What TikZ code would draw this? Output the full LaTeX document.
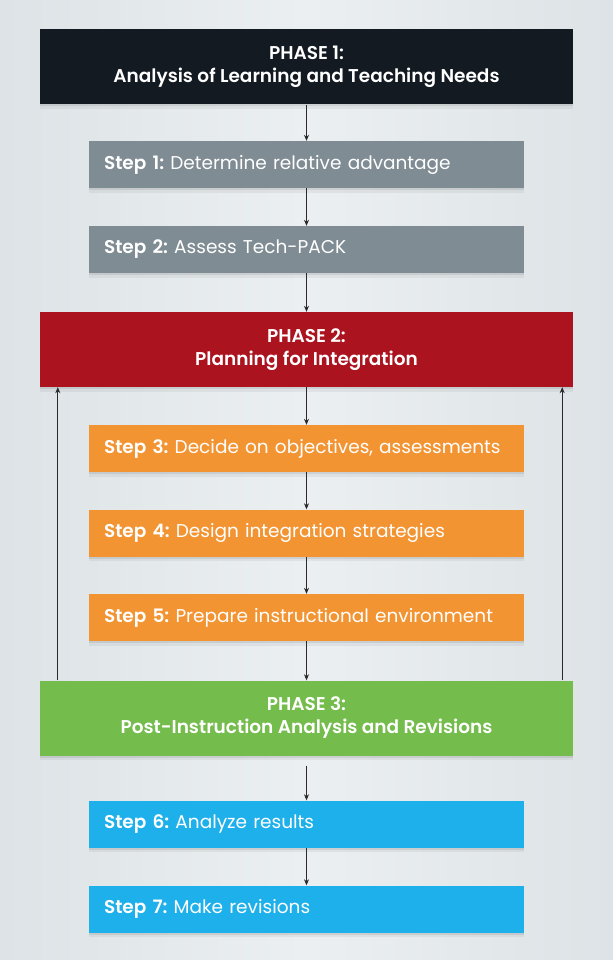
\documentclass[tikz,border=0pt]{standalone}
\usepackage{fontspec}
\setmainfont{Poppins}[BoldFont={Poppins SemiBold}]
\usetikzlibrary{arrows.meta,shadows}
\definecolor{bgc}{HTML}{DDE3E6}
\definecolor{bgmid}{HTML}{EBEFF1}
\definecolor{ph1}{HTML}{131A21}
\definecolor{stg}{HTML}{7F8C93}
\definecolor{ph2}{HTML}{AB131F}
\definecolor{sto}{HTML}{F39433}
\definecolor{ph3}{HTML}{74BC4B}
\definecolor{stb}{HTML}{1EB0EA}
\definecolor{arr}{HTML}{2A2A2A}
\tikzset{
  x=1pt, y=-1pt,
  box/.style={draw=none, inner sep=0pt, text=white,
     drop shadow={shadow xshift=0pt, shadow yshift=-4.5pt, opacity=0.05, fill=black},
     drop shadow={shadow xshift=0pt, shadow yshift=-2pt, opacity=0.08, fill=black}},
  phasebox/.style={box, minimum width=533pt, minimum height=75pt, align=center,
     font=\fontsize{18.5}{23}\selectfont},
  stepbox/.style={box, minimum width=435pt, minimum height=47pt, align=left,
     text width=405pt, font=\fontsize{18.5}{22}\selectfont},
  conn/.style={draw=arr, line width=0.7pt, -{Stealth[length=6pt,width=5pt]}}
}
\begin{document}
\begin{tikzpicture}
\useasboundingbox (0,0) rectangle (613,960);
\shade[left color=bgc, right color=bgc, middle color=bgmid] (0,0) rectangle (613,960);
\node[phasebox, fill=ph1] (p1) at (306.5,67) {\textbf{PHASE 1:}\\ \textbf{Analysis of Learning and Teaching Needs}};
\node[stepbox, fill=stg] (s1) at (306.5,164.5) {\textbf{Step 1:}~Determine relative advantage};
\node[stepbox, fill=stg] (s2) at (306.5,249.5) {\textbf{Step 2:}~Assess Tech-PACK};
\node[phasebox, fill=ph2] (p2) at (306.5,349.5) {\textbf{PHASE 2:}\\ \textbf{Planning for Integration}};
\node[stepbox, fill=sto] (s3) at (306.5,448.5) {\textbf{Step 3:}~Decide on objectives, assessments};
\node[stepbox, fill=sto] (s4) at (306.5,533) {\textbf{Step 4:}~Design integration strategies};
\node[stepbox, fill=sto] (s5) at (306.5,617.5) {\textbf{Step 5:}~Prepare instructional environment};
\node[phasebox, fill=ph3] (p3) at (306.5,718) {\textbf{PHASE 3:}\\ \textbf{Post-Instruction Analysis and Revisions}};
\node[stepbox, fill=stb] (s6) at (306.5,824) {\textbf{Step 6:}~Analyze results};
\node[stepbox, fill=stb] (s7) at (306.5,909) {\textbf{Step 7:}~Make revisions};
\draw[conn] (p1) -- (s1);
\draw[conn] (s1) -- (s2);
\draw[conn] (s2) -- (p2);
\draw[conn] (p2) -- (s3);
\draw[conn] (s3) -- (s4);
\draw[conn] (s4) -- (s5);
\draw[conn] (s5) -- (p3);
\draw[conn] ([yshift=-10pt]p3.south) -- (s6);
\draw[conn] (s6) -- (s7);
\draw[conn] (p3.north west) ++(18,0) coordinate (la) -- (la |- p2.south);
\draw[conn] (p3.north east) ++(-11,0) coordinate (ra) -- (ra |- p2.south);
\end{tikzpicture}
\end{document}
